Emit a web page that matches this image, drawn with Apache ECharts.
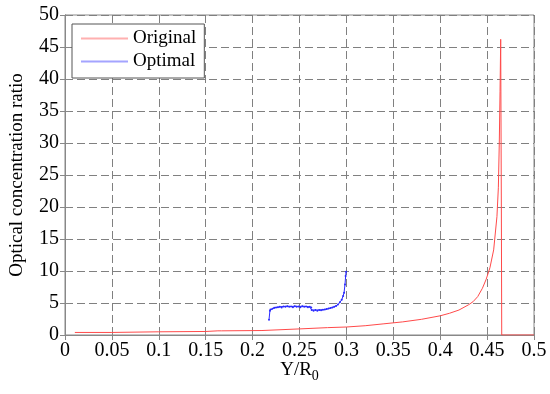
<!DOCTYPE html>
<html>
<head>
<meta charset="utf-8">
<script src="https://cdn.jsdelivr.net/npm/echarts@6/dist/echarts.min.js"></script>
<style>
html,body{margin:0;padding:0;background:#fff;}
#chart{width:550px;height:394px;}
</style>
</head>
<body>
<div id="chart"></div>
<script>
// Data
const seriesNames = ['Original', 'Optimal'];

const originalX = [0.0105,0.05,0.0505,0.10,0.15,0.151,0.163,0.165,0.167,0.21,0.2115,0.25,0.251,0.28,0.30,0.32,0.34,0.36,0.38,0.40,0.41,0.42,0.43,0.435,0.44,0.445,0.449,0.453,0.457,0.4605,0.462,0.463,0.4638,0.4645,0.4652,0.4656,0.5];
const originalY = [0.4,0.4,0.5,0.5,0.55,0.65,0.65,0.55,0.65,0.7,0.9,0.95,1.1,1.15,1.25,1.45,1.75,2.05,2.45,3.0,3.4,3.9,4.7,5.2,6.0,7.3,8.7,10.5,13.3,18.5,23,30,38,46.2,20,0,0];

const optimalX = [0.2175,0.2185,0.219,0.221,0.223,0.225,0.227,0.229,0.231,0.233,0.235,0.237,0.239,0.241,0.243,0.245,0.247,0.249,0.251,0.253,0.255,0.257,0.259,0.261,0.2625,0.263,0.265,0.267,0.269,0.271,0.273,0.275,0.277,0.279,0.281,0.283,0.285,0.287,0.289,0.291,0.293,0.295,0.2965,0.2975,0.2985,0.2992,0.2997];
const optimalY = [2.4,3.8,4.0,4.1,4.25,4.3,4.35,4.4,4.3,4.45,4.4,4.5,4.4,4.45,4.35,4.5,4.4,4.45,4.35,4.5,4.4,4.45,4.35,4.4,4.3,3.9,3.8,3.9,3.8,3.9,3.85,3.95,4.0,4.05,4.15,4.2,4.3,4.4,4.55,4.75,5.1,5.5,6.1,6.6,7.9,9.2,9.9];

const xAxisName = 'Y/R';
const xAxisSub = '0';
const yAxisName = 'Optical concentration ratio';

const zip = (xs, ys) => xs.map((x, i) => [x, ys[i]]);

const FONT = 'Liberation Serif';
const gridLine = { show: true, lineStyle: { color: '#808080', type: [8, 4], width: 1 } };

const chart = echarts.init(document.getElementById('chart'), null, { renderer: 'canvas' });
chart.setOption({
  backgroundColor: '#fff',
  animation: false,
  textStyle: { fontFamily: FONT, color: '#000' },
  grid: { left: 61, right: 16, top: 15, bottom: 59, show: true, borderColor: '#888', borderWidth: 1 },
  legend: {
    orient: 'vertical',
    left: 72, top: 24,
    padding: [5, 8, 7, 9],
    itemGap: 4,
    itemWidth: 47, itemHeight: 2,
    icon: 'rect',
    backgroundColor: '#fff',
    borderColor: '#555', borderWidth: 1,
    textStyle: { fontFamily: FONT, fontSize: 19, color: '#000' },
    data: [
      { name: seriesNames[0], itemStyle: { color: '#ffb0b0' } },
      { name: seriesNames[1], itemStyle: { color: '#a4a4ff' } }
    ]
  },
  xAxis: [{
    type: 'value', min: 0, max: 0.5, interval: 0.05,
    name: '{m|' + xAxisName + '}{s|' + xAxisSub + '}',
    nameLocation: 'middle', nameGap: 22, nameMoveOverlap: false,
    nameTextStyle: {
      rich: {
        m: { fontFamily: FONT, fontSize: 19, color: '#000' },
        s: { fontFamily: FONT, fontSize: 14, color: '#000', verticalAlign: 'bottom', padding: [12, 0, 0, 0] }
      }
    },
    axisLine: { show: true, lineStyle: { color: '#888' } },
    axisTick: { show: true, inside: true, length: 5, lineStyle: { color: '#888' } },
    axisLabel: { fontFamily: FONT, fontSize: 20, color: '#000', margin: 6 },
    splitLine: gridLine
  }, {
    type: 'value', min: 0, max: 0.5, interval: 0.05, position: 'top',
    axisLine: { show: true, lineStyle: { color: '#888' } },
    axisTick: { show: true, inside: true, length: 5, lineStyle: { color: '#888' } },
    axisLabel: { show: false }, splitLine: { show: false }
  }],
  yAxis: [{
    type: 'value', min: 0, max: 50, interval: 5,
    name: yAxisName, nameLocation: 'middle', nameGap: 38, nameMoveOverlap: false,
    nameTextStyle: { fontFamily: FONT, fontSize: 19, color: '#000' },
    axisLine: { show: true, lineStyle: { color: '#888' } },
    axisTick: { show: true, inside: true, length: 5, lineStyle: { color: '#888' } },
    axisLabel: { fontFamily: FONT, fontSize: 20, color: '#000', margin: 6 },
    splitLine: gridLine
  }, {
    type: 'value', min: 0, max: 50, interval: 5, position: 'right',
    axisLine: { show: true, lineStyle: { color: '#888' } },
    axisTick: { show: true, inside: true, length: 5, lineStyle: { color: '#888' } },
    axisLabel: { show: false }, splitLine: { show: false }
  }],
  series: [{
    name: seriesNames[0], type: 'line',
    data: zip(originalX, originalY),
    showSymbol: false, symbol: 'none',
    color: '#ff4a4a',
    lineStyle: { color: '#ff4a4a', width: 1 },
    z: 3
  }, {
    name: seriesNames[1], type: 'line',
    data: zip(optimalX, optimalY),
    showSymbol: true, symbol: 'circle', symbolSize: 2,
    color: '#2a2aff',
    itemStyle: { color: '#2a2aff' },
    lineStyle: { color: '#2a2aff', width: 1 },
    z: 4
  }]
});
</script>
</body>
</html>
